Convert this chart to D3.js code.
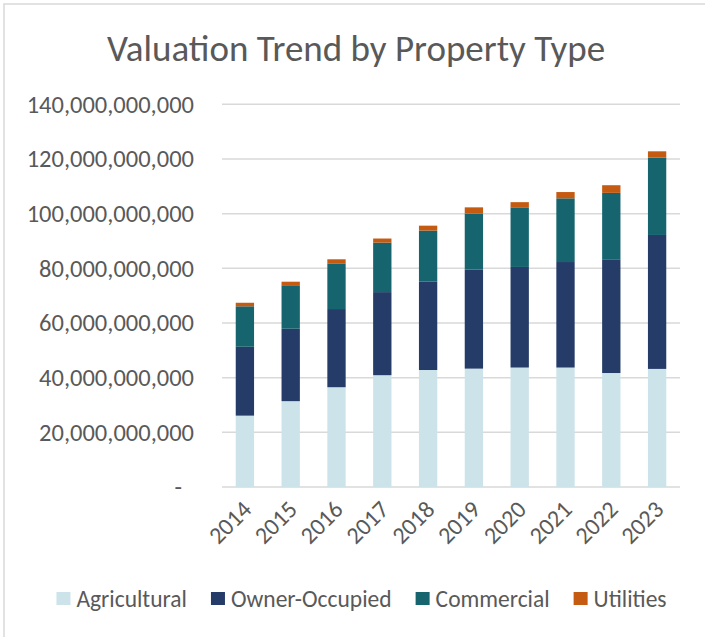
<!DOCTYPE html>
<html>
<head>
<meta charset="utf-8">
<script src="https://cdn.jsdelivr.net/npm/d3@7"></script>
<style>
  body { margin: 0; background: #fff; }
  text { font-family: Calibri, Carlito, Lato, sans-serif; fill: #595959; }
</style>
</head>
<body>
<div id="chart"></div>
<script>
// values
const years = ["2014", "2015", "2016", "2017", "2018", "2019", "2020", "2021", "2022", "2023"];
const agricultural = [26.1e9, 31.4e9, 36.5e9, 40.9e9, 42.8e9, 43.3e9, 43.7e9, 43.7e9, 41.7e9, 43.2e9];
const ownerOccupied = [25.2e9, 26.5e9, 28.6e9, 30.4e9, 32.3e9, 36.2e9, 36.8e9, 38.6e9, 41.6e9, 49.0e9];
const commercial = [14.8e9, 15.9e9, 16.7e9, 18.1e9, 18.7e9, 20.5e9, 21.8e9, 23.3e9, 24.3e9, 28.3e9];
const utilities = [1.3e9, 1.3e9, 1.5e9, 1.5e9, 1.8e9, 2.3e9, 1.9e9, 2.3e9, 2.8e9, 2.3e9];
const seriesNames = ["Agricultural", "Owner-Occupied", "Commercial", "Utilities"];
const yTicks = [0, 20e9, 40e9, 60e9, 80e9, 100e9, 120e9, 140e9];
const colors = ["#cbe3e9", "#253c68", "#16646e", "#c55a11"];

const svg_width = 705, svg_height = 637;
const plot = {left: 222, right: 680, top: 104.3, bottom: 487};

const rows = years.map((y, i) => ({
  year: y,
  "Agricultural": agricultural[i],
  "Owner-Occupied": ownerOccupied[i],
  "Commercial": commercial[i],
  "Utilities": utilities[i]
}));
const stacked = d3.stack().keys(seriesNames)(rows);

const svg = d3.select('#chart').append('svg')
  .attr('width', svg_width).attr('height', svg_height);

// frame
svg.append('rect').attr('x', 4).attr('y', 4).attr('width', 760).attr('height', 700)
  .attr('fill', 'none').attr('stroke', '#d9d9d9').attr('stroke-width', 1.5);

const xScale = d3.scaleBand().domain(years).range([plot.left, plot.right])
  .paddingInner(0.6).paddingOuter(0.3);
const yScale = d3.scaleLinear().domain([0, 140e9]).range([plot.bottom, plot.top]);

// gridlines
svg.append('g').selectAll('line').data(yTicks).enter().append('line')
  .attr('x1', plot.left).attr('x2', plot.right)
  .attr('y1', d => yScale(d)).attr('y2', d => yScale(d))
  .attr('stroke', '#d9d9d9').attr('stroke-width', 1.5);

// bars
svg.append('g').selectAll('g').data(stacked).enter().append('g')
  .attr('fill', (d, i) => colors[i])
  .selectAll('rect').data(d => d).enter().append('rect')
  .attr('x', d => xScale(d.data.year))
  .attr('y', d => yScale(d[1]))
  .attr('width', xScale.bandwidth())
  .attr('height', d => yScale(d[0]) - yScale(d[1]));

// y axis
const yAxis = d3.axisLeft(yScale).tickValues(yTicks).tickSize(0).tickPadding(28)
  .tickFormat(d => d === 0 ? "-" : d3.format(",")(d));
const yAxisDraw = svg.append('g').attr('transform', `translate(${plot.left},0)`).call(yAxis);
yAxisDraw.select('.domain').remove();
yAxisDraw.selectAll('text').attr('font-size', 24.5).attr('font-family', null)
  .attr('fill', '#595959')
  .attr('dx', d => d === 0 ? -12 : 0);

// x axis
const xAxis = d3.axisBottom(xScale).tickSize(0).tickPadding(0);
const xAxisDraw = svg.append('g').attr('transform', `translate(0,${plot.bottom})`).call(xAxis);
xAxisDraw.select('.domain').remove();
xAxisDraw.selectAll('text').attr('font-size', 24).attr('font-family', null)
  .attr('fill', '#595959')
  .attr('text-anchor', 'end').attr('dy', '0.35em')
  .attr('transform', 'translate(2,18) rotate(-45)');

// title
svg.append('text').attr('x', 356).attr('y', 61).attr('text-anchor', 'middle')
  .attr('font-size', 37).text('Valuation Trend by Property Type');

// legend
const legend = svg.append('g').attr('class', 'legend');
let lx = 0;
seriesNames.forEach((name, i) => {
  const item = legend.append('g').attr('transform', `translate(${lx},0)`);
  item.append('rect').attr('x', 0).attr('y', -7).attr('width', 14).attr('height', 13).attr('fill', colors[i]);
  const t = item.append('text').attr('x', 20).attr('y', 0).attr('dy', '0.35em')
    .attr('font-size', 23.5).text(name);
  lx += 20 + t.node().getComputedTextLength() + 24;
});
lx -= 24;
legend.attr('transform', `translate(${361.5 - lx / 2},599)`);
</script>
</body>
</html>
